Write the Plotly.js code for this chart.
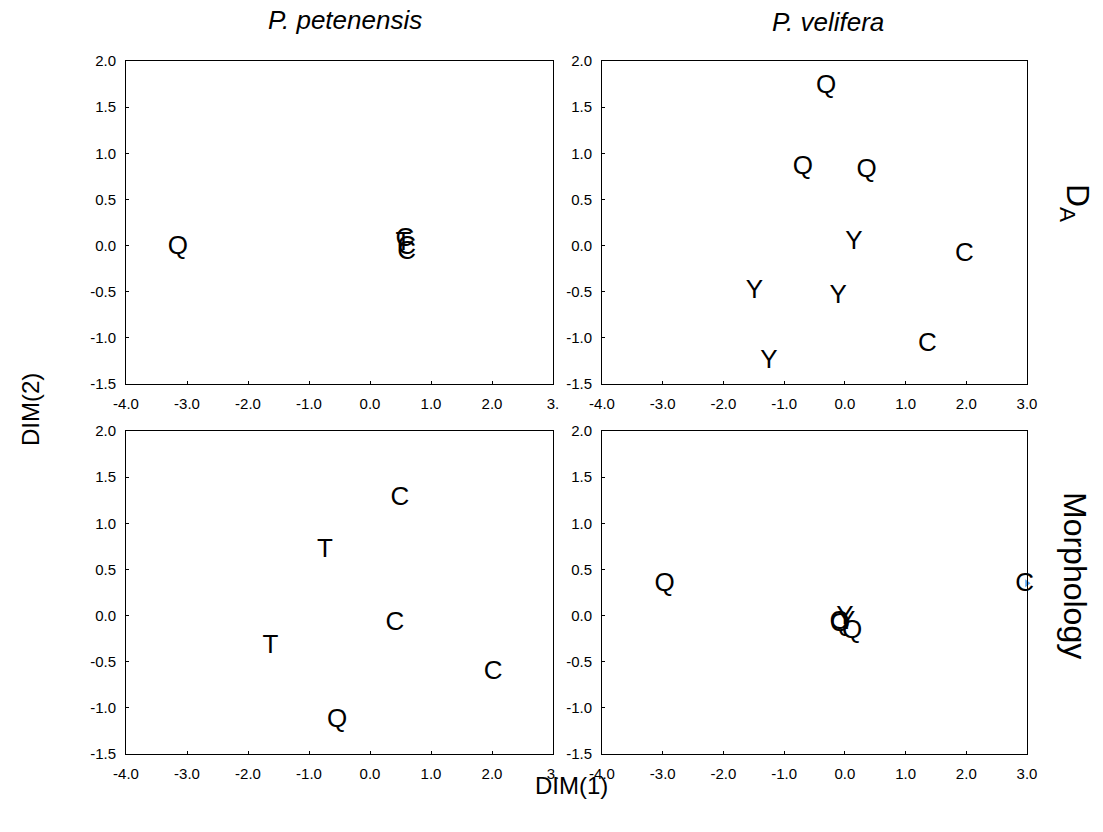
<!DOCTYPE html>
<html>
<head>
<meta charset="utf-8">
<script src="https://cdn.plot.ly/plotly-3.0.1.min.js"></script>
<style>html,body{margin:0;padding:0;background:#fff;}#chart{width:1103px;height:832px;}</style>
</head>
<body>
<div id="chart"></div>
<script>
// ---- Data ----
// P. petenensis, D_A
const petDA_labels = ["Q", "C", "T", "C", "C"];
const petDA_x      = [-3.15, 0.57, 0.55, 0.60, 0.60];
const petDA_y      = [-0.02, 0.07, 0.02, -0.02, -0.07];

// P. velifera, D_A
const velDA_labels = ["Q", "Q", "Q", "Y", "C", "Y", "Y", "C", "Y"];
const velDA_x      = [-0.31, -0.69, 0.36, 0.15, 1.97, -1.49, -0.11, 1.36, -1.25];
const velDA_y      = [1.72, 0.85, 0.81, 0.03, -0.10, -0.50, -0.55, -1.07, -1.26];

// P. petenensis, Morphology
const petMo_labels = ["C", "T", "C", "T", "C", "Q"];
const petMo_x      = [0.49, -0.74, 0.41, -1.63, 2.02, -0.54];
const petMo_y      = [1.27, 0.70, -0.09, -0.33, -0.62, -1.14];

// P. velifera, Morphology
const velMo_labels = ["Q", "C", "Y", "Y", "C", "Q", "Q"];
const velMo_x      = [-2.97, 2.96, 0.00, 0.03, -0.10, -0.08, 0.12];
const velMo_y      = [0.34, 0.34, -0.02, -0.07, -0.07, -0.10, -0.17];
const velMo_flag_x = [3.0];
const velMo_flag_y = [0.35];

// Axis ticks
const xTickVals = [-4, -3, -2, -1, 0, 1, 2, 3];
const xTickTextLeft  = ["-4.0", "-3.0", "-2.0", "-1.0", "0.0", "1.0", "2.0", "3."];
const xTickTextRight = ["-4.0", "-3.0", "-2.0", "-1.0", "0.0", "1.0", "2.0", "3.0"];
const yTickVals = [-1.5, -1, -0.5, 0, 0.5, 1, 1.5, 2];
const yTickText = ["-1.5", "-1.0", "-0.5", "0.0", "0.5", "1.0", "1.5", "2.0"];

const colTitles = ["<i>P. petenensis</i>", "<i>P. velifera</i>"];
const rowTitles = ["D<sub>A</sub>", "Morphology"];
const xTitle = "DIM(1)";
const yTitle = "DIM(2)";

// ---- Build ----
const FONT = "Arial, 'Liberation Sans', Helvetica, sans-serif";
const W = 1103, H = 832;
const xDomL = [126 / W, 553 / W], xDomR = [602 / W, 1027 / W];
const yDomT = [(H - 384) / H, (H - 61) / H], yDomB = [(H - 754) / H, (H - 431) / H];

function textTrace(x, y, labels, xa, ya) {
  return {
    x: x, y: y, text: labels, mode: "text", type: "scatter",
    xaxis: xa, yaxis: ya, textposition: "middle center",
    textfont: {family: FONT, size: 26, color: "#000"},
    hoverinfo: "none", showlegend: false, cliponaxis: false
  };
}

const traces = [
  textTrace(petDA_x, petDA_y, petDA_labels, "x", "y"),
  textTrace(velDA_x, velDA_y, velDA_labels, "x2", "y2"),
  textTrace(petMo_x, petMo_y, petMo_labels, "x3", "y3"),
  textTrace(velMo_x, velMo_y, velMo_labels, "x4", "y4"),
  {x: velMo_flag_x, y: velMo_flag_y, mode: "markers", type: "scatter", xaxis: "x4", yaxis: "y4",
   marker: {symbol: "triangle-right", size: 7, color: "#5aa6f5"}, showlegend: false, hoverinfo: "none", cliponaxis: false}
];

function xAxis(dom, anchor, ticktext) {
  return {
    domain: dom, anchor: anchor, range: [-4, 3], tickmode: "array", tickvals: xTickVals, ticktext: ticktext,
    showline: true, mirror: true, linecolor: "#000", linewidth: 1, ticks: "inside", ticklen: 3, tickcolor: "#000",
    showgrid: false, zeroline: false, tickfont: {family: FONT, size: 15, color: "#000"}, fixedrange: true,
    ticklabelstandoff: 6
  };
}
function yAxis(dom, anchor) {
  return {
    domain: dom, anchor: anchor, range: [-1.5, 2], tickmode: "array", tickvals: yTickVals, ticktext: yTickText,
    showline: true, mirror: true, linecolor: "#000", linewidth: 1, ticks: "inside", ticklen: 3, tickcolor: "#000",
    showgrid: false, zeroline: false, tickfont: {family: FONT, size: 15, color: "#000"}, fixedrange: true,
    ticklabelstandoff: 6
  };
}

function ann(text, px, py, size, angle) {
  return {text: text, x: px / W, y: 1 - py / H, xref: "paper", yref: "paper", showarrow: false,
          xanchor: "center", yanchor: "middle", textangle: angle || 0, font: {size: size, family: FONT, color: "#000"}};
}

const layout = {
  width: W, height: H, margin: {l: 0, r: 0, t: 0, b: 0},
  paper_bgcolor: "#fff", plot_bgcolor: "#fff", showlegend: false,
  font: {family: FONT, color: "#000"},
  xaxis: xAxis(xDomL, "y", xTickTextLeft),   yaxis: yAxis(yDomT, "x"),
  xaxis2: xAxis(xDomR, "y2", xTickTextRight), yaxis2: yAxis(yDomT, "x2"),
  xaxis3: xAxis(xDomL, "y3", xTickTextLeft),  yaxis3: yAxis(yDomB, "x3"),
  xaxis4: xAxis(xDomR, "y4", xTickTextRight), yaxis4: yAxis(yDomB, "x4"),
  annotations: [
    ann(colTitles[0], 345, 20, 26),
    ann(colTitles[1], 828, 22, 26),
    ann(rowTitles[0], 1075, 203, 32, 90),
    ann(rowTitles[1], 1075, 575, 32, 90),
    ann(xTitle, 571, 785, 24),
    ann(yTitle, 30, 410, 24, -90)
  ]
};

Plotly.newPlot("chart", traces, layout, {displayModeBar: false, staticPlot: true});
</script>
</body>
</html>
